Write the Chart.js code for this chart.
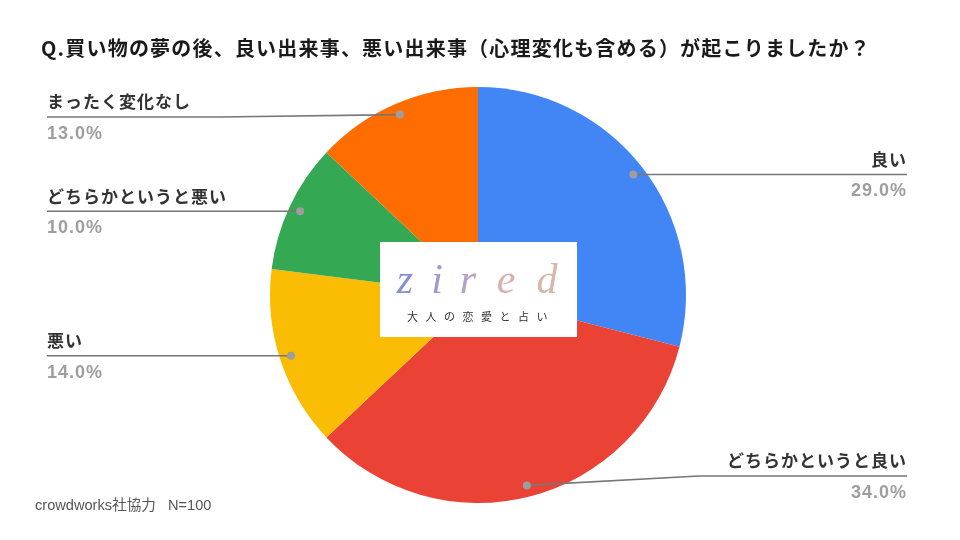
<!DOCTYPE html>
<html>
<head>
<meta charset="utf-8">
<script src="https://cdn.jsdelivr.net/npm/chart.js@4"></script>
<style>
  html, body { margin: 0; padding: 0; background: #ffffff; }
  #wrap { width: 960px; height: 540px; }
</style>
</head>
<body>
<div id="wrap"><canvas id="c" width="960" height="540"></canvas></div>
<script>
const titleText = 'Q.買い物の夢の後、良い出来事、悪い出来事（心理変化も含める）が起こりましたか？';
const categories = ['良い', 'どちらかというと良い', '悪い', 'どちらかというと悪い', 'まったく変化なし'];
const shares = [29, 34, 14, 10, 13];
const percentLabels = shares.map(v => v.toFixed(1) + '%');
const footerText = 'crowdworks社協力   N=100';
const logoWord = ['z', 'i', 'r', 'e', 'd'];
const logoSub = '大人の恋愛と占い';

const sliceColors = ['#4285f4', '#ea4335', '#fbbc04', '#34a853', '#ff6d01'];

const labelPlugin = {
  id: 'leaderLabels',
  afterDatasetsDraw(chart) {
    const ctx = chart.ctx;
    const meta = chart.getDatasetMeta(0);
    const area = chart.chartArea;
    ctx.save();
    meta.data.forEach((arc, i) => {
      const p = arc.getProps(['x', 'y', 'startAngle', 'endAngle', 'outerRadius'], true);
      const mid = (p.startAngle + p.endAngle) / 2;
      const dx = p.x + Math.cos(mid) * p.outerRadius * 0.945;
      const dy = p.y + Math.sin(mid) * p.outerRadius * 0.945;
      const right = dx > p.x;
      let ly = Math.min(Math.max(dy, area.top + 30), area.bottom - 27);
      const textX = right ? 907 : 47;
      ctx.font = 'bold 17px "Noto Sans CJK JP", sans-serif';
      ctx.letterSpacing = '1px';
      const tw = ctx.measureText(categories[i]).width;
      // leader line
      ctx.strokeStyle = '#777777';
      ctx.lineWidth = 1.6;
      ctx.beginPath();
      ctx.moveTo(dx, dy);
      if (Math.abs(ly - dy) > 0.5) {
        const ex = right ? textX - tw - 28 : textX + tw + 28;
        ctx.lineTo(ex, ly);
      }
      ctx.lineTo(textX, ly);
      ctx.stroke();
      // dot
      ctx.fillStyle = '#9e9e9e';
      ctx.beginPath();
      ctx.arc(dx, dy, 4, 0, Math.PI * 2);
      ctx.fill();
      // category label
      ctx.textAlign = right ? 'right' : 'left';
      ctx.textBaseline = 'middle';
      ctx.fillStyle = '#333333';
      ctx.fillText(categories[i], textX, ly - 15);
      // percent label
      ctx.font = 'bold 18px "Liberation Sans", Arial, sans-serif';
      ctx.letterSpacing = '1px';
      ctx.fillStyle = '#9e9e9e';
      ctx.fillText(percentLabels[i], textX, ly + 17);
    });
    ctx.restore();
  },
  afterDraw(chart) {
    const ctx = chart.ctx;
    ctx.save();
    // title
    ctx.textAlign = 'left';
    ctx.textBaseline = 'middle';
    ctx.fillStyle = '#1a1a1a';
    ctx.font = 'bold 20px "Noto Sans CJK JP", sans-serif';
    ctx.letterSpacing = '1.2px';
    ctx.fillText(titleText, 41, 48);
    // footer
    ctx.font = '14.6px "Liberation Sans", "Noto Sans CJK JP", sans-serif';
    ctx.letterSpacing = '0px';
    ctx.fillStyle = '#555555';
    ctx.fillText(footerText, 35, 506);
    // logo box
    ctx.fillStyle = '#ffffff';
    ctx.fillRect(380, 242, 197, 95);
    const letterColors = ['#8890d8', '#9f98d2', '#b6a2c6', '#d8b1aa', '#d6b7aa'];
    const letterX = [405, 437, 468, 506, 547];
    ctx.font = 'italic 42px "Liberation Serif", "DejaVu Serif", serif';
    ctx.textAlign = 'center';
    ctx.textBaseline = 'alphabetic';
    logoWord.forEach((ch, k) => {
      ctx.fillStyle = letterColors[k];
      ctx.fillText(ch, letterX[k], 293);
    });
    ctx.font = '11px "Noto Sans CJK JP", sans-serif';
    ctx.letterSpacing = '7.5px';
    ctx.fillStyle = '#333333';
    ctx.textBaseline = 'middle';
    ctx.fillText(logoSub, 481, 317);
    ctx.restore();
  }
};

new Chart(document.getElementById('c'), {
  type: 'pie',
  data: {
    labels: categories,
    datasets: [{
      data: shares,
      backgroundColor: sliceColors,
      borderWidth: 0
    }]
  },
  options: {
    responsive: false,
    animation: false,
    devicePixelRatio: 1,
    layout: { padding: { top: 87, bottom: 37, left: 270, right: 274 } },
    plugins: {
      legend: { display: false },
      tooltip: { enabled: false },
      title: { display: false }
    }
  },
  plugins: [labelPlugin]
});
</script>
</body>
</html>
